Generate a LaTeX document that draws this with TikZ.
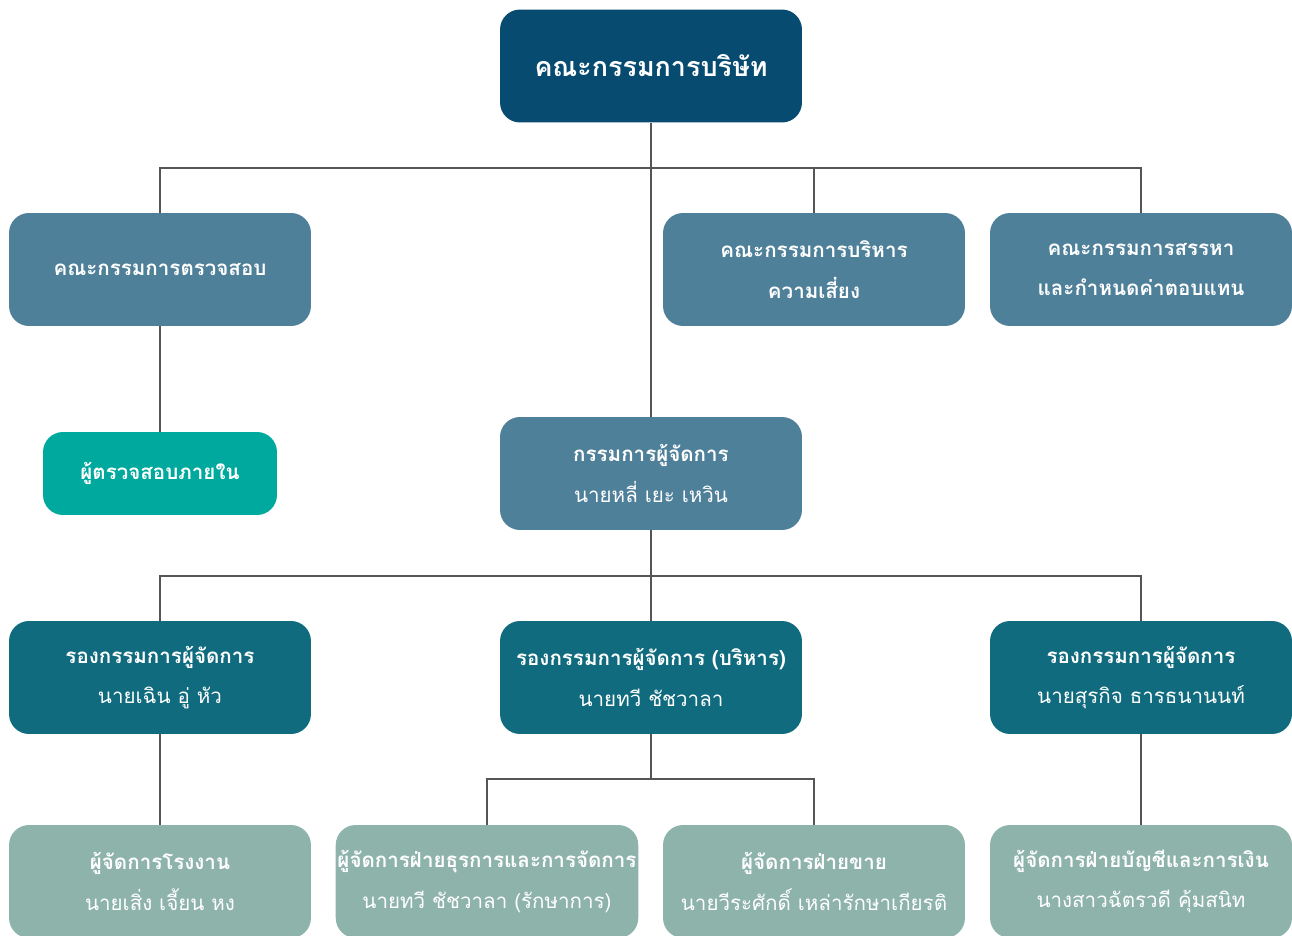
\documentclass[tikz,border=0pt]{standalone}
\usepackage{fontspec}
\setmainfont[Script=Thai]{Loma}
\usepackage{xcolor}
\usetikzlibrary{positioning}
\definecolor{boardblue}{HTML}{084B70}
\definecolor{steelblue}{HTML}{4F8099}
\definecolor{auditteal}{HTML}{00A99D}
\definecolor{deputyteal}{HTML}{106B7E}
\definecolor{mgrgreen}{HTML}{8DB3AA}
\definecolor{linegray}{HTML}{555555}
\tikzset{
  unit/.style={ % common look of every box
    rectangle, rounded corners=0.4cm, text=white,
    minimum width=6.04cm, minimum height=2.26cm,
    align=center, inner sep=1pt,
    font=\fontsize{11.7}{23}\selectfont
  },
  board/.style={unit, fill=boardblue, font=\fontsize{15.3}{23}\selectfont\bfseries},
  committee/.style={unit, fill=steelblue},
  auditor/.style={unit, fill=auditteal, minimum width=4.68cm, minimum height=1.66cm},
  deputy/.style={unit, fill=deputyteal},
  manager/.style={unit, fill=mgrgreen},
  conn/.style={draw=linegray, line width=1.2pt}
}
\begin{document}
\begin{tikzpicture}[x=0.02cm, y=-0.02cm]
  \useasboundingbox (0,0) rectangle (1292,936);

  % board and committees
  \node[board] (board) at (651,66) {คณะกรรมการบริษัท};
  \node[committee] (audit) at (160,269.5) {\textbf{คณะกรรมการตรวจสอบ}};
  \node[committee] (risk) at (814,269.5) {\textbf{คณะกรรมการบริหาร}\\\textbf{ความเสี่ยง}};
  \node[committee] (nomin) at (1141,269.5) {\textbf{คณะกรรมการสรรหา}\\\textbf{และกำหนดค่าตอบแทน}};
  \node[auditor] (inaudit) at (160,473.5) {\textbf{ผู้ตรวจสอบภายใน}};
  \node[committee] (md) at (651,473.5) {\textbf{กรรมการผู้จัดการ}\\นายหลี่ เยะ เหวิน};

  % deputies
  \node[deputy] (dep1) at (160,677.5) {\textbf{รองกรรมการผู้จัดการ}\\นายเฉิน อู่ หัว};
  \node[deputy] (dep2) at (651,677.5) {\textbf{รองกรรมการผู้จัดการ (บริหาร)}\\นายทวี ชัชวาลา};
  \node[deputy] (dep3) at (1141,677.5) {\textbf{รองกรรมการผู้จัดการ}\\นายสุรกิจ ธารธนานนท์};

  % managers
  \node[manager] (mgr1) at (160,881.5) {\textbf{ผู้จัดการโรงงาน}\\นายเสิ่ง เจี้ยน หง};
  \node[manager] (mgr2) at (487,881.5) {\textbf{ผู้จัดการฝ่ายธุรการและการจัดการ}\\นายทวี ชัชวาลา (รักษาการ)};
  \node[manager] (mgr3) at (814,881.5) {\textbf{ผู้จัดการฝ่ายขาย}\\นายวีระศักดิ์ เหล่ารักษาเกียรติ};
  \node[manager] (mgr4) at (1141,881.5) {\textbf{ผู้จัดการฝ่ายบัญชีและการเงิน}\\นางสาวฉัตรวดี คุ้มสนิท};

  \coordinate (bus1) at (651,168);
  \coordinate (bus2) at (651,576);
  \coordinate (bus3) at (651,779);

  \path[conn] (board) -- (md);
  \path[conn] (audit) |- (bus1) -| (nomin);
  \path[conn] (bus1) -| (risk);
  \path[conn] (audit) -- (inaudit);
  \path[conn] (md) -- (dep2);
  \path[conn] (dep1) |- (bus2) -| (dep3);
  \path[conn] (dep1) -- (mgr1);
  \path[conn] (dep3) -- (mgr4);
  \path[conn] (dep2) -- (bus3);
  \path[conn] (mgr2) |- (bus3) -| (mgr3);
\end{tikzpicture}
\end{document}
